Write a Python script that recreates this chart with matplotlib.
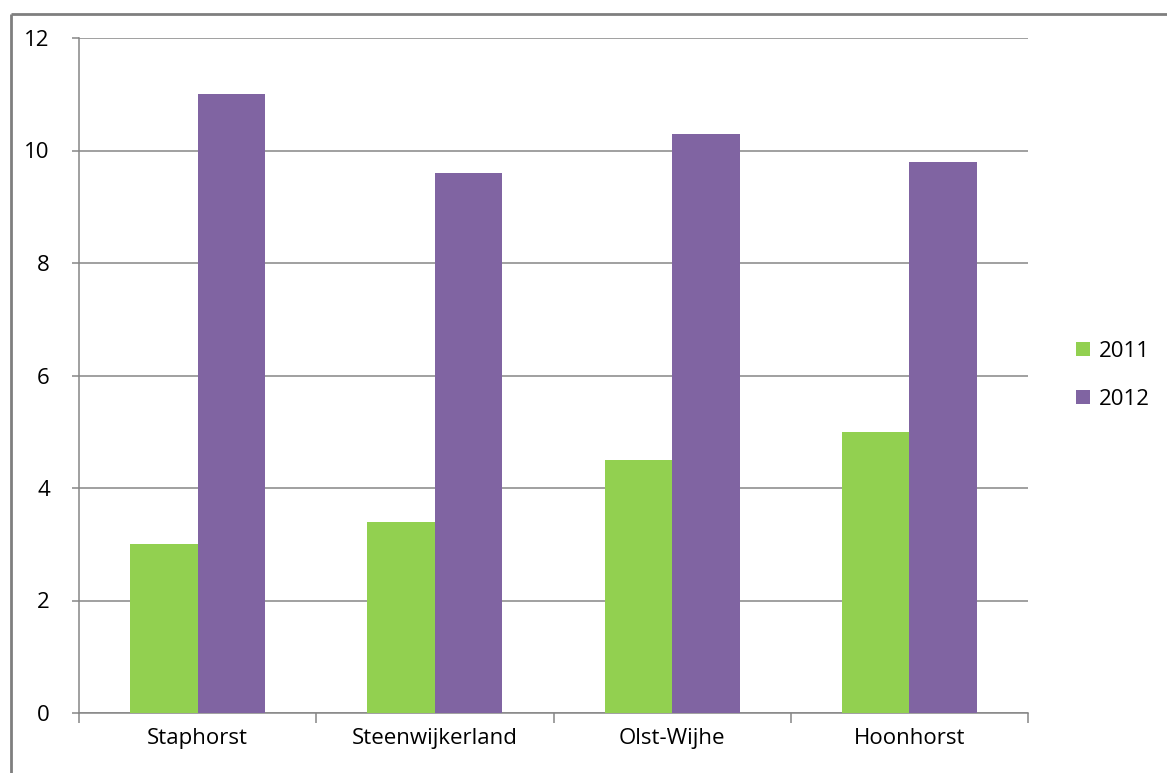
import matplotlib.pyplot as plt
import numpy as np

# gemeenten en waarden per jaar
gemeenten = ["Staphorst", "Steenwijkerland", "Olst-Wijhe", "Hoonhorst"]
waarden_2011 = [3.0, 3.4, 4.5, 5.0]
waarden_2012 = [11.0, 9.6, 10.3, 9.8]
jaren = ["2011", "2012"]
kleuren = ["#92D050", "#8064A2"]

plt.rcParams['font.family'] = ['Open Sans', 'DejaVu Sans']
fs = 16

W, H = 1167, 773
fig = plt.figure(figsize=(W/100, H/100), dpi=100)
ax = fig.add_axes([79/W, 1-713/H, (1028-79)/W, (713-38)/H])

x = np.arange(len(gemeenten))
breedte = 0.285
ax.bar(x - breedte/2, waarden_2011, breedte, color=kleuren[0], label=jaren[0], zorder=3)
ax.bar(x + breedte/2, waarden_2012, breedte, color=kleuren[1], label=jaren[1], zorder=3)

ax.set_xlim(-0.5, len(gemeenten) - 0.5)
ax.set_ylim(0, 12)
ax.set_yticks(range(0, 13, 2))
ax.yaxis.grid(True, color="#868686", linewidth=1.1, zorder=0)
ax.tick_params(axis='y', length=5, width=1.1, color="#868686", labelsize=fs, pad=16)

# categorie-labels in het midden, streepjes op de grenzen
ax.set_xticks(x)
ax.set_xticklabels(gemeenten)
ax.tick_params(axis='x', which='major', length=0, labelsize=fs, pad=11)
ax.set_xticks(np.arange(-0.5, len(gemeenten)), minor=True)
ax.tick_params(axis='x', which='minor', length=7, width=1.1, color="#868686")

for s in ['top', 'right']:
    ax.spines[s].set_visible(False)
for s in ['left', 'bottom']:
    ax.spines[s].set_color("#868686")
    ax.spines[s].set_linewidth(1.1)

ax.legend(loc='center left', bbox_to_anchor=(1.03, 0.5), frameon=False,
          fontsize=fs, handlelength=0.6, handleheight=0.6, handletextpad=0.4,
          labelspacing=1.2)

# kader rond de grafiek (loopt rechts en onder buiten beeld)
links = 10.5 / W
boven = 1 - 14 / H
fig.add_artist(plt.Line2D([links, 1.01], [boven, boven], transform=fig.transFigure,
                          color="#7f7f7f", linewidth=2.0, solid_capstyle='butt'))
fig.add_artist(plt.Line2D([links, links], [-0.01, boven], transform=fig.transFigure,
                          color="#7f7f7f", linewidth=2.0, solid_capstyle='butt'))

fig.savefig("out.png", dpi=100)
